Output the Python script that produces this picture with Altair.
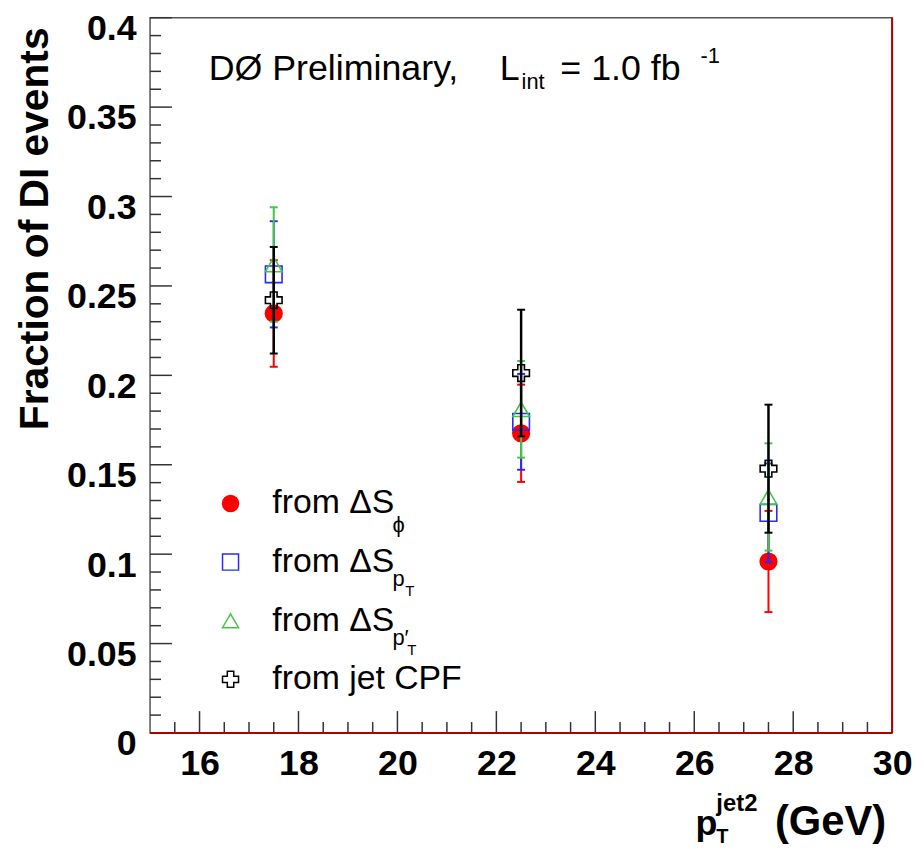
import altair as alt
import pandas as pd

# ---------------- data ----------------
series_names = ["phi", "pT", "pTprime", "CPF"]
series_colors = ["#ff0000", "#2a2aff", "#44c844", "#000000"]
series_fill = ["#ff0000", "transparent", "transparent", "transparent"]
series_shapes = ["circle", "square", "triangle-up", "cross"]

pt_bins = [17.5, 22.5, 27.5]
frac_phi = [0.2346, 0.1676, 0.0959]
err_phi = [0.0298, 0.0272, 0.0283]
frac_pt = [0.2565, 0.1740, 0.1231]
err_pt = [0.0297, 0.0268, 0.0276]
frac_ptp = [0.2620, 0.1810, 0.1320]
err_ptp = [0.0320, 0.0270, 0.0300]
frac_cpf = [0.2420, 0.2013, 0.1478]
err_cpf = [0.0298, 0.0354, 0.0358]

x_tick_labels = [16, 18, 20, 22, 24, 26, 28, 30]
x_minor_ticks = [15.5, 16.5, 17, 17.5, 18.5, 19, 19.5, 20.5, 21, 21.5, 22.5, 23, 23.5,
                 24.5, 25, 25.5, 26.5, 27, 27.5, 28.5, 29, 29.5]
y_tick_labels = [0, 0.05, 0.1, 0.15, 0.2, 0.25, 0.3, 0.35, 0.4]
y_minor_ticks = [v / 100 for v in range(41) if v % 5 != 0]

values = {"phi": (frac_phi, err_phi), "pT": (frac_pt, err_pt),
          "pTprime": (frac_ptp, err_ptp), "CPF": (frac_cpf, err_cpf)}

FONT = "Liberation Sans"
W, H = 747, 720

xs = alt.Scale(domain=[15, 30], nice=False, zero=False)
ys = alt.Scale(domain=[0, 0.4], nice=False, zero=False)
xaxis = alt.Axis(values=x_tick_labels, ticks=False, domain=False, grid=False,
                 labelFont=FONT, labelFontSize=36, labelFontWeight="bold",
                 labelColor="black", labelPadding=14, labelFlush=False, title=None)
yaxis = alt.Axis(values=y_tick_labels, ticks=False, domain=False, grid=False,
                 labelFont=FONT, labelFontSize=36, labelFontWeight="bold",
                 labelColor="black", labelPadding=14, labelOffset=11, labelFlush=False,
                 format="~g",
                 title="Fraction of DI events", titleFont=FONT, titleFontSize=41,
                 titleFontWeight="bold", titleColor="black", titleAngle=270,
                 titleX=-103, titleY=212, titleAlign="center", titleBaseline="alphabetic")


def X(f):
    return alt.X(f, type="quantitative", scale=xs, axis=xaxis)


def Y(f):
    return alt.Y(f, type="quantitative", scale=ys, axis=yaxis)


legend = alt.Legend(orient="none", legendX=64, legendY=472, title=None, padding=0,
                    labelFont=FONT, labelFontSize=34, labelColor="black", labelLimit=400,
                    labelOffset=25, symbolSize=260, symbolStrokeWidth=1.5,
                    rowPadding=25,
                    labelExpr="datum.value == 'CPF' ? 'from jet CPF' : 'from ΔS'")

layers = []

# inner tick marks (ROOT style)
layers.append(alt.Chart(pd.DataFrame({"frac": y_tick_labels})).mark_rule(
    color="#333", strokeWidth=1.5).encode(y=Y("frac"), x=alt.value(0), x2=alt.value(22)))
layers.append(alt.Chart(pd.DataFrame({"frac": y_minor_ticks})).mark_rule(
    color="#333", strokeWidth=1.5).encode(y=Y("frac"), x=alt.value(0), x2=alt.value(11)))
layers.append(alt.Chart(pd.DataFrame({"pt": x_tick_labels})).mark_rule(
    color="#333", strokeWidth=1.5).encode(x=X("pt"), y=alt.value(H), y2=alt.value(H - 22)))
layers.append(alt.Chart(pd.DataFrame({"pt": x_minor_ticks})).mark_rule(
    color="#333", strokeWidth=1.5).encode(x=X("pt"), y=alt.value(H), y2=alt.value(H - 11)))

# frame edges in dark red (right and bottom)
layers.append(alt.Chart(pd.DataFrame({"pt": [30]})).mark_rule(
    color="#b00000", strokeWidth=2).encode(x=X("pt")))
layers.append(alt.Chart(pd.DataFrame({"frac": [0]})).mark_rule(
    color="#b00000", strokeWidth=2).encode(y=Y("frac")))

# data series
for name, col in zip(series_names, series_colors):
    f, e = values[name]
    df = pd.DataFrame({
        "pt": pt_bins,
        "frac": f,
        "lo": [a - b for a, b in zip(f, e)],
        "hi": [a + b for a, b in zip(f, e)],
        "series": [name] * len(pt_bins),
    })
    sw = 2.5 if name == "CPF" else 2
    base = alt.Chart(df)
    layers.append(base.mark_rule(color=col, strokeWidth=sw).encode(
        x=X("pt"), y=Y("lo"), y2=alt.Y2("hi")))
    layers.append(base.mark_tick(color=col, orient="horizontal", size=8, thickness=2,
                                 opacity=1).encode(x=X("pt"), y=Y("lo")))
    layers.append(base.mark_tick(color=col, orient="horizontal", size=8, thickness=2,
                                 opacity=1).encode(x=X("pt"), y=Y("hi")))
    layers.append(base.mark_point(filled=False, opacity=1, size=280, strokeWidth=1.6,
                                  fillOpacity=1).encode(
        x=X("pt"), y=Y("frac"),
        color=alt.Color("series:N", scale=alt.Scale(domain=series_names, range=series_colors),
                        legend=legend),
        fill=alt.Fill("series:N", scale=alt.Scale(domain=series_names, range=series_fill),
                      legend=legend),
        shape=alt.Shape("series:N", scale=alt.Scale(domain=series_names, range=series_shapes),
                        legend=legend),
    ))


def txt(s, x, y, size, weight="normal", align="left"):
    return alt.Chart(pd.DataFrame({"t": [s]})).mark_text(
        font=FONT, fontSize=size, fontWeight=weight, align=align, baseline="alphabetic",
        color="black").encode(text="t:N", x=alt.value(x), y=alt.value(y))


# header text
layers.append(txt("DØ Preliminary,", 59, 63, 36))
layers.append(txt("L", 352, 63, 36))
layers.append(txt("int", 374, 72, 22))
layers.append(txt("= 1.0 fb", 413, 63, 36))
layers.append(txt("-1", 554, 46, 22))

# legend subscripts
layers.append(txt("ϕ", 244, 518, 22))
layers.append(txt("p", 244, 572, 22))
layers.append(txt("T", 257, 582, 15))
layers.append(txt("p′", 244, 631, 22))
layers.append(txt("T", 259, 641, 15))

# x-axis title
layers.append(txt("p", 549, 823, 36, "bold"))
layers.append(txt("jet2", 570, 799, 24, "bold"))
layers.append(txt("T", 570, 831, 20, "bold"))
layers.append(txt("(GeV)", 629, 823, 42, "bold"))

chart = alt.layer(*layers).properties(
    width=W, height=H,
    autosize=alt.AutoSizeParams(type="none"),
    padding={"left": 143, "top": 7, "right": 24, "bottom": 113},
).configure_view(stroke="#555", strokeWidth=1.5).configure_axis(labelLimit=300)

chart.save("out.html", embed_options={"renderer": "svg", "actions": False})
